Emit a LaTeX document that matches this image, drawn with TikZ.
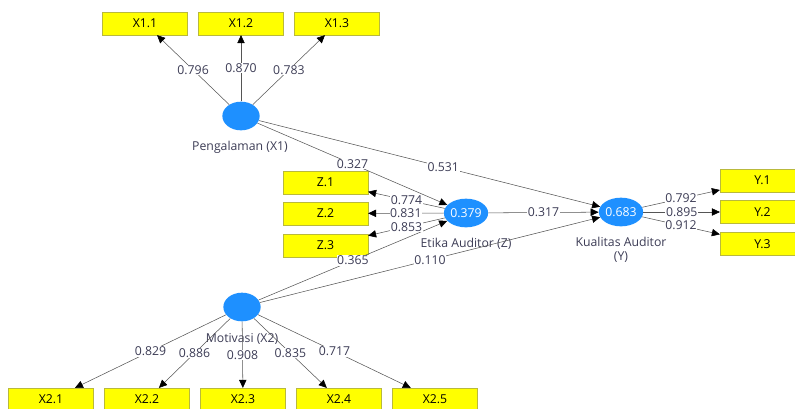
\documentclass[tikz,border=0pt]{standalone}
\usepackage{fontspec}
\setmainfont{Open Sans}
\usetikzlibrary{shapes, arrows.meta, calc, positioning}
\definecolor{plsblue}{RGB}{30,144,255}
\definecolor{plsyellow}{RGB}{255,255,0}
\definecolor{plsedge}{RGB}{185,185,60}
\definecolor{plstext}{RGB}{60,60,85}
\definecolor{plsline}{RGB}{85,85,85}

\begin{document}
\begin{tikzpicture}[x=0.75pt, y=-0.75pt, font=\fontsize{9.2}{10.5}\selectfont]%{{{
        \useasboundingbox (0,0) rectangle (795,408);

        \tikzstyle{lv} = [ellipse, fill=plsblue, minimum width=28pt, minimum height=21.5pt, inner sep=0pt];
        \tikzstyle{mv} = [draw=plsedge, fill=plsyellow, minimum width=63.5pt, minimum height=17pt, inner sep=0pt];
        \tikzstyle{w} = [fill=white, inner sep=0.5pt, text=plstext];
        \tikzstyle{a} = [draw=plsline, -{Triangle[length=6pt, width=5.5pt, color=black]}];

        % latent variables
        \node [lv] (X1) at (241,116) { };
        \node [lv, text=white] (Z) at (466,213) {0.379};
        \node [lv, text=white] (Y) at (621,212) {0.683};
        \node [lv] (X2) at (242,307) { };

        \node [text=plstext] (X1name) at (240,147) {Pengalaman (X1)};
        \node [text=plstext] (Zname) at (466,244) {Etika Auditor (Z)};
        \node [text=plstext, align=center] (Yname) at (621,250) {Kualitas Auditor\\(Y)};
        \node [text=plstext] (X2name) at (242,339) {Motivasi (X2)};

        % indicators
        \foreach \i/\x in {1/145, 2/241, 3/337}{
            \node [mv] (X1\i) at (\x,23.5) {X1.\i};
        }
        \foreach \i/\y in {1/182.5, 2/213.5, 3/245.5}{
            \node [mv] (Z\i) at (325.5,\y) {Z.\i};
        }
        \foreach \i/\y in {1/180.5, 2/212, 3/244}{
            \node [mv] (Y\i) at (762.5,\y) {Y.\i};
        }
        \foreach \i/\x in {1/51, 2/147, 3/243, 4/339, 5/435}{
            \node [mv] (X2\i) at (\x,399.5) {X2.\i};
        }

        % inner model
        \draw [a] (X1) -- node [w] {0.327} (Z);
        \draw [a] (X1) -- node [w, pos=0.54] {0.531} (Y);
        \draw [a] (X2) -- node [w] {0.365} (Z);
        \draw [a] (X2) -- node [w] {0.110} (Y);
        \draw [a] (Z) -- node [w] {0.317} (Y);

        % outer loadings
        \foreach \i/\v in {1/0.796, 2/0.870, 3/0.783}{
            \draw [a] (X1) -- node [w] {\v} (X1\i);
        }
        \foreach \i/\v in {1/0.774, 2/0.831, 3/0.853}{
            \draw [a] (Z) -- node [w] {\v} (Z\i);
        }
        \foreach \i/\v in {1/0.792, 2/0.895, 3/0.912}{
            \draw [a] (Y) -- node [w] {\v} (Y\i);
        }
        \foreach \i/\v in {1/0.829, 2/0.886, 3/0.908, 4/0.835, 5/0.717}{
            \draw [a] (X2) -- node [w] {\v} (X2\i);
        }
    \end{tikzpicture}
\end{document}
